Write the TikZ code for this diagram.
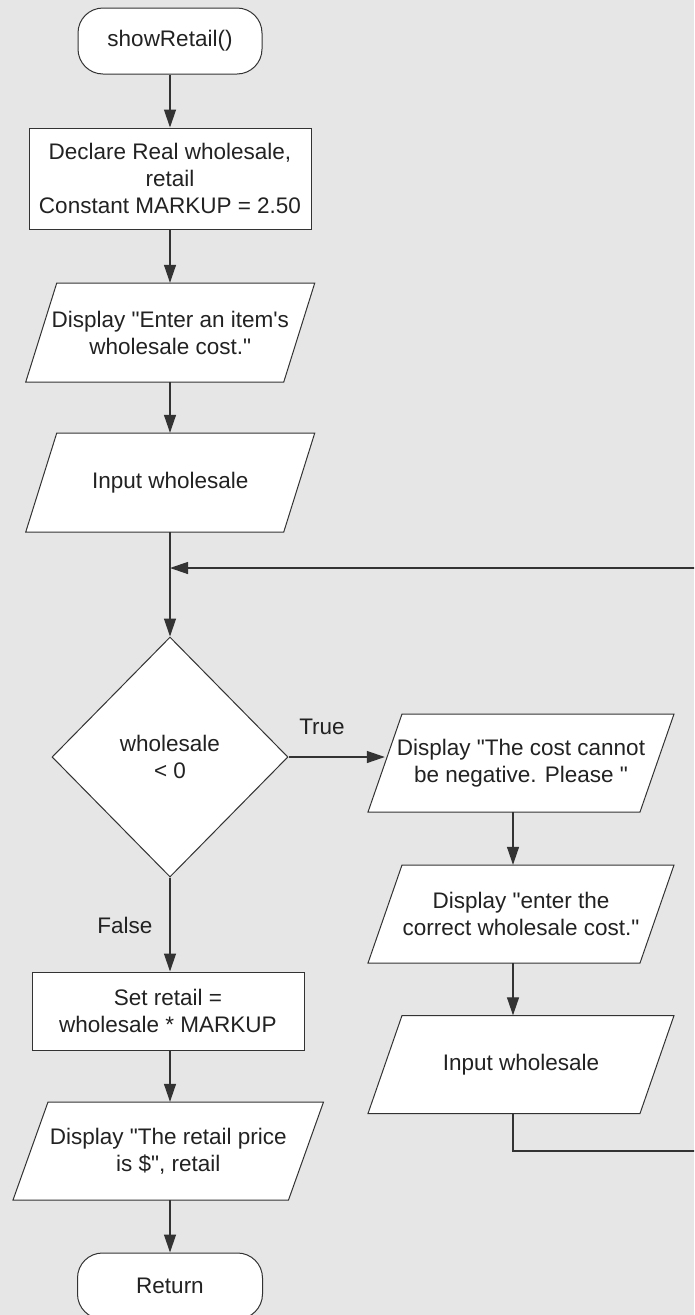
\documentclass[tikz,border=0pt]{standalone}
\usepackage{fontspec}
\setmainfont{Liberation Sans}[Ligatures=TeXOff]
\usetikzlibrary{arrows.meta,shapes.geometric}
\definecolor{bgcol}{HTML}{E6E6E6}
\definecolor{linecol}{HTML}{333333}
\definecolor{txtcol}{HTML}{222222}
\tikzset{
  shapeline/.style={draw=linecol, line width=1pt, fill=white},
  txt/.style={text=txtcol, font=\fontsize{22.5}{27}\selectfont, align=center, inner sep=0pt},
  terminal/.style={shapeline, txt, rounded corners=25pt, minimum width=184pt, minimum height=66pt},
  procbox/.style={shapeline, txt, rectangle},
  decbox/.style={shapeline, txt, diamond, minimum width=236pt, minimum height=240pt},
  iotext/.style={txt, draw=none, rectangle},
  conn/.style={draw=linecol, line width=1.3pt},
  arr/.style={conn, -{Triangle[length=18pt,width=12pt]}},
  lbl/.style={txt}
}
% #1 name, #2 cx, #3 cy, #4 half width, #5 half height, #6 slant, #7 text
\newcommand\iobox[7]{%
  \draw[shapeline] ({#2-#4+#6},{#3-#5}) -- ({#2+#4+#6},{#3-#5}) -- ({#2+#4-#6},{#3+#5}) -- ({#2-#4-#6},{#3+#5}) -- cycle;
  \node[iotext, minimum width={2*#4}, minimum height={2*#5}] (#1) at (#2,#3) {#7};
}
\begin{document}
\begin{tikzpicture}[x=1pt,y=-1pt]
\fill[bgcol] (0,0) rectangle (694,1315);
\clip (0,0) rectangle (694,1315);
\useasboundingbox (0,0) rectangle (694,1315);

\node[terminal] (start) at (170,41) {showRetail()};
\node[procbox, minimum width=282pt, minimum height=101pt] (decl) at (170,178.5) {Declare Real wholesale,\\retail\\Constant MARKUP = 2.50};
\iobox{disp1}{170.25}{332.5}{129}{49.5}{15.5}{Display "Enter an item's\\wholesale cost."}
\iobox{in1}{170.25}{482.5}{129}{49.5}{15.5}{Input wholesale}
\coordinate (loop) at (170,568);
\node[decbox] (dec) at (170,757) {wholesale\\< 0};
\node[lbl] (truelbl) at (322,727) {True};
\node[lbl] (falselbl) at (125,925) {False};
\iobox{right1}{521}{763}{136}{49}{17}{Display "The cost cannot\\be negative. Please\ "}
\iobox{right2}{521}{914}{136}{49}{17}{Display "enter the\\correct wholesale cost."}
\iobox{right3}{521}{1064.5}{136}{49}{17}{Input wholesale}
\coordinate (col) at (513,0);
\coordinate (lcol) at (170,0);
\coordinate (lb) at (699,1151);
\coordinate (lt) at (699,568);
\node[procbox, minimum width=272pt, minimum height=78pt] (setr) at (168,1011) {Set retail =\\wholesale * MARKUP};
\iobox{disp2}{168.25}{1151}{137.75}{49}{17.5}{Display "The retail price\\is \$", retail};
\node[terminal, minimum width=185pt] (ret) at (170,1286) {Return};

\draw[arr] (start) -- (decl);
\draw[arr] (decl) -- (disp1.north -| lcol);
\draw[arr] (disp1.south -| lcol) -- (in1.north -| lcol);
\draw[conn] (in1.south -| lcol) -- (loop);
\draw[arr] (loop) -- (dec.north);
\draw[arr] (dec.east) -- (dec.east -| right1.west);
\draw[arr] (right1.south -| col) -- (right2.north -| col);
\draw[arr] (right2.south -| col) -- (right3.north -| col);
\draw[arr] (right3.south -| col) |- (lb) -- (lt) -- (loop);
\draw[arr] (dec.south) -- (setr.north -| dec.south);
\draw[arr] (setr.south -| lcol) -- (disp2.north -| lcol);
\draw[arr] (disp2.south -| lcol) -- (ret.north);
\end{tikzpicture}
\end{document}
